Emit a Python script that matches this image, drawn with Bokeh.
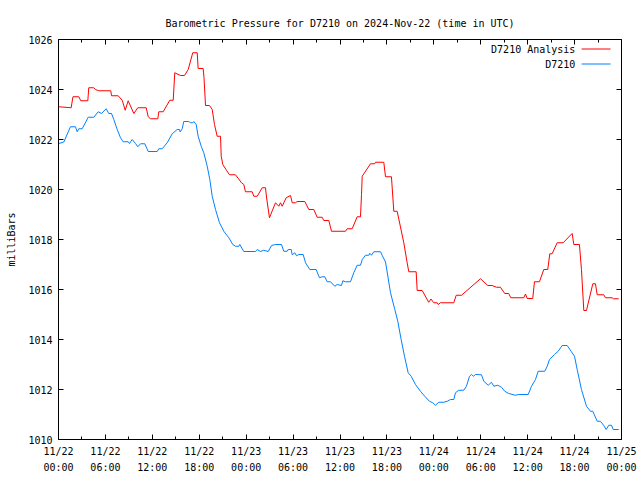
from bokeh.plotting import figure
from bokeh.models import Range1d, FixedTicker, LinearAxis, Label, Arrow, ColumnDataSource
from bokeh.embed import file_html
from bokeh.resources import INLINE

TITLE = "Barometric Pressure for D7210 on 2024-Nov-22 (time in UTC)"
Y_LABEL = "milliBars"
SERIES_NAMES = ["D7210 Analysis", "D7210"]

# hours since 2024-11-22 00:00 UTC
x_tick_hours = [0, 6, 12, 18, 24, 30, 36, 42, 48, 54, 60, 66, 72]
x_tick_labels = ["11/22\n00:00", "11/22\n06:00", "11/22\n12:00", "11/22\n18:00",
                 "11/23\n00:00", "11/23\n06:00", "11/23\n12:00", "11/23\n18:00",
                 "11/24\n00:00", "11/24\n06:00", "11/24\n12:00", "11/24\n18:00",
                 "11/25\n00:00"]
x_minor_hours = [3, 9, 15, 21, 27, 33, 39, 45, 51, 57, 63, 69]
y_ticks = [1010, 1012, 1014, 1016, 1018, 1020, 1022, 1024, 1026]

analysis_hours = [0.04, 1.62, 1.85, 2.60, 2.85, 3.75, 3.87, 4.51, 4.73, 5.15, 6.69, 6.78, 7.63,
                  8.15, 8.53, 8.91, 9.63, 10.14, 11.22, 11.47, 11.76, 12.70, 12.83, 13.39, 14.23,
                  14.67, 14.87, 15.60, 16.11, 16.59, 17.17, 17.74, 17.86, 18.50, 18.61, 18.80,
                  19.31, 19.66, 19.95, 20.29, 20.72, 20.81, 21.01, 21.52, 21.87, 22.63, 23.40,
                  23.70, 23.91, 24.77, 24.97, 25.41, 26.05, 26.47, 26.60, 26.98, 27.75, 28.17,
                  28.39, 28.61, 29.12, 29.67, 29.89, 30.31, 30.52, 31.50, 32.01, 32.65, 33.08,
                  33.72, 33.93, 34.57, 34.91, 36.70, 36.92, 37.56, 38.20, 38.62, 38.75, 38.84,
                  39.90, 40.45, 40.54, 41.60, 41.82, 42.58, 42.88, 43.31, 44.16, 44.59, 44.80,
                  45.74, 45.87, 46.51, 47.35, 47.63, 47.99, 48.43, 48.56, 48.85, 50.55, 50.86,
                  51.54, 53.96, 54.90, 55.46, 56.01, 56.52, 57.07, 57.58, 57.84, 59.50, 59.72,
                  59.94, 60.65, 60.87, 61.51, 62.06, 62.57, 62.83, 63.13, 63.77, 64.54, 65.69,
                  65.90, 66.62, 66.88, 67.18, 67.52, 68.33, 68.67, 68.89, 69.73, 69.95, 70.81,
                  70.97, 71.65]
analysis_mbar = [1023.31, 1023.27, 1023.71, 1023.71, 1023.55, 1023.55, 1024.07, 1024.07, 1024.00,
                 1023.95, 1023.95, 1023.75, 1023.75, 1023.57, 1023.17, 1023.55, 1023.04, 1023.27,
                 1023.27, 1022.91, 1022.83, 1022.83, 1023.11, 1023.11, 1023.57, 1023.57, 1024.67,
                 1024.56, 1024.56, 1024.80, 1025.47, 1025.47, 1024.84, 1024.84, 1024.47, 1023.36,
                 1023.36, 1023.20, 1022.60, 1022.13, 1022.13, 1021.33, 1021.00, 1020.75, 1020.59,
                 1020.59, 1020.27, 1020.20, 1019.91, 1019.91, 1019.73, 1019.73, 1020.07, 1020.07,
                 1019.70, 1018.87, 1019.47, 1019.33, 1019.47, 1019.33, 1019.67, 1019.76, 1019.47,
                 1019.47, 1019.52, 1019.52, 1019.20, 1019.20, 1018.89, 1018.89, 1018.76, 1018.76,
                 1018.33, 1018.33, 1018.43, 1018.43, 1018.91, 1018.91, 1019.80, 1020.53, 1021.03,
                 1021.03, 1021.09, 1021.09, 1020.51, 1020.51, 1019.13, 1019.13, 1017.87, 1017.07,
                 1016.71, 1016.71, 1015.96, 1015.96, 1015.49, 1015.62, 1015.47, 1015.47, 1015.40,
                 1015.47, 1015.47, 1015.77, 1015.77, 1016.43, 1016.16, 1016.16, 1016.09, 1016.09,
                 1015.84, 1015.84, 1015.67, 1015.67, 1015.82, 1015.64, 1015.64, 1016.31, 1016.31,
                 1016.80, 1016.80, 1017.43, 1017.43, 1017.87, 1017.87, 1018.24, 1017.80, 1017.80,
                 1016.80, 1015.16, 1015.16, 1016.23, 1016.23, 1015.79, 1015.79, 1015.67, 1015.67,
                 1015.63, 1015.63]

station_hours = [0.04, 0.68, 1.53, 2.17, 2.39, 2.60, 3.03, 3.80, 4.51, 5.08, 5.50, 6.10, 6.43,
                 6.78, 7.07, 7.51, 7.93, 8.27, 8.91, 9.08, 9.42, 9.85, 10.14, 10.49, 11.04, 11.47,
                 12.62, 12.83, 13.26, 13.90, 14.54, 15.18, 15.47, 15.56, 15.82, 16.02, 16.66,
                 16.88, 17.17, 17.30, 17.61, 17.86, 18.25, 18.58, 19.02, 19.35, 19.66, 20.08,
                 20.59, 21.14, 21.78, 22.29, 22.63, 23.06, 23.18, 23.70, 25.19, 25.41, 25.83,
                 26.25, 26.82, 27.24, 27.75, 28.52, 28.81, 29.25, 29.37, 29.76, 29.89, 30.22,
                 30.44, 30.73, 31.29, 31.59, 32.14, 32.95, 33.38, 33.72, 34.05, 34.36, 34.78,
                 35.33, 35.64, 36.19, 36.36, 36.70, 37.34, 37.76, 38.20, 38.62, 38.84, 39.26,
                 39.68, 39.81, 40.03, 40.32, 41.18, 41.39, 41.82, 42.03, 42.46, 43.01, 43.39,
                 43.82, 44.25, 44.72, 45.10, 45.65, 46.29, 46.84, 47.44, 47.86, 48.21, 48.63,
                 49.27, 49.71, 50.13, 50.55, 50.77, 51.19, 51.83, 52.17, 52.56, 52.81, 53.07,
                 53.32, 54.09, 54.39, 54.95, 55.37, 55.67, 56.18, 56.65, 57.07, 57.58, 58.44,
                 58.86, 60.07, 60.49, 61.00, 61.34, 62.19, 62.50, 62.79, 63.43, 63.90, 64.41,
                 65.05, 65.56, 65.99, 66.33, 66.88, 67.52, 68.03, 68.33, 68.89, 69.31, 69.73,
                 70.04, 70.37, 70.72, 70.94, 71.65]
station_mbar = [1021.84, 1021.90, 1022.51, 1022.51, 1022.31, 1022.43, 1022.43, 1022.89, 1022.89,
                1023.11, 1023.04, 1023.23, 1023.04, 1023.04, 1022.80, 1022.40, 1022.07, 1021.91,
                1021.91, 1021.84, 1022.00, 1021.84, 1021.71, 1021.83, 1021.83, 1021.52, 1021.52,
                1021.63, 1021.63, 1021.87, 1022.23, 1022.40, 1022.40, 1022.30, 1022.43, 1022.72,
                1022.72, 1022.67, 1022.67, 1022.72, 1022.60, 1022.13, 1021.73, 1021.47, 1020.93,
                1020.40, 1019.73, 1019.20, 1018.67, 1018.33, 1018.07, 1017.80, 1017.73, 1017.73,
                1017.80, 1017.52, 1017.52, 1017.60, 1017.52, 1017.57, 1017.52, 1017.76, 1017.80,
                1017.80, 1017.53, 1017.53, 1017.60, 1017.60, 1017.39, 1017.47, 1017.35, 1017.40,
                1017.40, 1017.07, 1016.80, 1016.80, 1016.47, 1016.51, 1016.51, 1016.31, 1016.31,
                1016.13, 1016.20, 1016.16, 1016.35, 1016.31, 1016.31, 1016.67, 1016.97, 1016.97,
                1017.20, 1017.37, 1017.37, 1017.45, 1017.37, 1017.51, 1017.51, 1017.37, 1017.10,
                1016.70, 1015.87, 1015.20, 1014.73, 1014.00, 1013.33, 1012.67, 1012.53, 1012.20,
                1011.93, 1011.73, 1011.53, 1011.47, 1011.37, 1011.49, 1011.49, 1011.53, 1011.60,
                1011.60, 1011.87, 1011.97, 1011.97, 1012.13, 1012.53, 1012.60, 1012.53, 1012.60,
                1012.59, 1012.33, 1012.17, 1012.29, 1012.13, 1012.17, 1012.09, 1011.93, 1011.84,
                1011.77, 1011.80, 1011.80, 1012.13, 1012.40, 1012.73, 1012.73, 1012.93, 1013.20,
                1013.40, 1013.53, 1013.76, 1013.76, 1013.53, 1013.33, 1012.80, 1012.00, 1011.33,
                1011.13, 1011.13, 1010.73, 1010.73, 1010.56, 1010.40, 1010.57, 1010.57, 1010.40,
                1010.40]

FONT = "DejaVu Sans Mono"
FS = "10px"
RED = "#ff0000"
BLUE = "#0080ff"

p = figure(width=640, height=480, output_backend="svg", toolbar_location=None,
           x_range=Range1d(0, 72), y_range=Range1d(1010, 1026),
           min_border_left=58, min_border_right=19, min_border_top=39, min_border_bottom=41,
           title=TITLE)
p.title.align = "center"
p.title.text_font = FONT
p.title.text_font_size = FS
p.title.text_font_style = "normal"
p.title.text_color = "black"
p.title.standoff = 22
p.background_fill_color = "white"
p.border_fill_color = "white"
p.outline_line_color = "black"
p.outline_line_width = 1
p.xgrid.visible = False
p.ygrid.visible = False

xticker = FixedTicker(ticks=x_tick_hours, minor_ticks=x_minor_hours)
yticker = FixedTicker(ticks=y_ticks, minor_ticks=[])

def style_axis(ax):
    ax.axis_line_color = None
    ax.major_tick_in = 5
    ax.major_tick_out = 0
    ax.minor_tick_in = 3
    ax.minor_tick_out = 0
    ax.major_tick_line_color = "black"
    ax.minor_tick_line_color = "black"
    ax.major_label_text_font = FONT
    ax.major_label_text_font_size = FS
    ax.major_label_text_color = "black"

xa = p.xaxis[0]
xa.ticker = xticker
xa.major_label_overrides = {h: lab for h, lab in zip(x_tick_hours, x_tick_labels)}
style_axis(xa)
xa.major_label_standoff = 6
xa.major_label_text_line_height = 1.5

ya = p.yaxis[0]
ya.ticker = yticker
style_axis(ya)
ya.major_label_standoff = 6
ya.axis_label = Y_LABEL
ya.axis_label_text_font = FONT
ya.axis_label_text_font_size = FS
ya.axis_label_text_font_style = "normal"
ya.axis_label_text_color = "black"
ya.axis_label_standoff = 8

# mirrored tick marks on top and right (no labels drawn)
top = LinearAxis(ticker=xticker)
style_axis(top)
top.major_label_text_color = None
top.major_label_standoff = 0
p.add_layout(top, "above")
right = LinearAxis(ticker=yticker)
style_axis(right)
right.major_label_text_color = None
right.major_label_standoff = 0
p.add_layout(right, "right")

src_a = ColumnDataSource(dict(x=analysis_hours, y=analysis_mbar))
src_s = ColumnDataSource(dict(x=station_hours, y=station_mbar))
p.line("x", "y", source=src_a, line_color=RED, line_width=1)
p.line("x", "y", source=src_s, line_color=BLUE, line_width=1)

# gnuplot-style key: text right-aligned, sample line to its right
for name, col, ky in [(SERIES_NAMES[0], RED, 1025.62), (SERIES_NAMES[1], BLUE, 1025.02)]:
    p.add_layout(Label(x=66.1, y=ky, text=name, text_align="right", text_baseline="middle",
                       text_font=FONT, text_font_size=FS, text_color="black"))
    p.add_layout(Arrow(x_start=66.9, y_start=ky, x_end=70.6, y_end=ky, end=None, start=None,
                       line_color=col, line_width=1))

open("out.html", "w").write(file_html(p, INLINE))
